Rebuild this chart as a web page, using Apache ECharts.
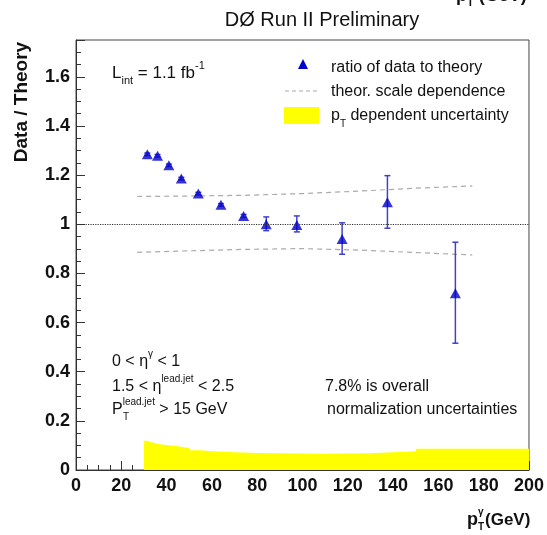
<!DOCTYPE html>
<html><head><meta charset="utf-8">
<script src="https://cdn.jsdelivr.net/npm/echarts@6/dist/echarts.min.js"></script>
<style>html,body{margin:0;padding:0;background:#fff}#c{width:547px;height:535px}</style>
</head><body><div id="c"></div>
<script>
// ---- data ----
const ptX     = [31.5, 36, 41, 46.5, 54, 64, 74, 84, 97.5, 117.5, 137.5, 167.5];
const ratio   = [1.285, 1.279, 1.240, 1.186, 1.125, 1.079, 1.034, 1.000, 0.997, 0.940, 1.090, 0.719];
const errUp   = [0.005, 0.005, 0.005, 0.005, 0.005, 0.005, 0.006, 0.030, 0.037, 0.066, 0.108, 0.208];
const errDown = [0.005, 0.005, 0.005, 0.005, 0.005, 0.005, 0.006, 0.026, 0.028, 0.062, 0.106, 0.203];

const scaleX     = [27, 50, 75, 100, 125, 150, 175];
const scaleUpper = [1.113, 1.115, 1.118, 1.125, 1.135, 1.147, 1.156];
const scaleLower = [0.886, 0.892, 0.898, 0.901, 0.895, 0.885, 0.875];

const bandX = [30, 31.5, 33, 35, 37, 40, 45, 50, 55, 60, 70, 80, 110, 130, 150, 200];
const bandY = [0.119, 0.114, 0.109, 0.105, 0.102, 0.097, 0.090, 0.080, 0.076, 0.072, 0.069, 0.066, 0.068, 0.076, 0.086, 0.086];

const xTicks = [0, 20, 40, 60, 80, 100, 120, 140, 160, 180, 200];
const yTickLabels = [0, 0.2, 0.4, 0.6, 0.8, 1, 1.2, 1.4, 1.6];
const refLevel = 1;

// ---- build ----
const FONT = 'Liberation Sans, Arial, Helvetica, sans-serif';
const zip = (a, b) => a.map((v, i) => [v, b[i]]);
const errData = ptX.map((x, i) => [x, ratio[i] - errDown[i], ratio[i] + errUp[i]]);

const chart = echarts.init(document.getElementById('c'), null, {renderer: 'canvas'});

function txt(x, y, text, opts) {
  opts = opts || {};
  return {
    type: 'text', x: x, y: y, z: 100, rotation: opts.rotation || 0,
    style: Object.assign({
      text: text, fill: '#111', fontFamily: FONT,
      fontSize: opts.fontSize || 16, fontWeight: opts.fontWeight || 'normal',
      textAlign: opts.align || 'left', align: opts.align || 'left',
      textVerticalAlign: opts.va || 'middle', verticalAlign: opts.va || 'middle'
    }, opts.rich ? {rich: opts.rich} : {})
  };
}
const richN = (fs, fw) => ({
  n: {fontSize: fs, fontFamily: FONT, fontWeight: fw || 'normal', fill: '#111', lineHeight: 26, verticalAlign: 'middle'},
  sup: {fontSize: Math.round(fs * 0.62), fontFamily: FONT, fontWeight: fw || 'normal', fill: '#111', lineHeight: 26, verticalAlign: 'top'},
  sub: {fontSize: Math.round(fs * 0.62), fontFamily: FONT, fontWeight: fw || 'normal', fill: '#111', lineHeight: 26, verticalAlign: 'bottom'}
});

const option = {
  backgroundColor: '#fff',
  animation: false,
  grid: {left: 76, right: 18, top: 40, bottom: 65, show: true, borderColor: '#444', borderWidth: 1, backgroundColor: 'transparent'},
  xAxis: {
    type: 'value', min: xTicks[0], max: xTicks[xTicks.length - 1], interval: xTicks[1] - xTicks[0],
    axisLine: {lineStyle: {color: '#333', width: 1}},
    axisTick: {inside: true, length: 9, lineStyle: {color: '#333'}},
    minorTick: {show: true, splitNumber: 4, length: 5, lineStyle: {color: '#333'}},
    splitLine: {show: false},
    axisLabel: {fontFamily: FONT, fontWeight: 'bold', fontSize: 18, color: '#111', margin: 7}
  },
  yAxis: [{
    type: 'value', min: 0, max: 1.75, interval: 0.2,
    axisLine: {show: true, lineStyle: {color: '#333', width: 1}},
    axisTick: {show: true, inside: true, length: 9, lineStyle: {color: '#333'}},
    splitLine: {show: false},
    axisLabel: {fontFamily: FONT, fontWeight: 'bold', fontSize: 18, color: '#111', margin: 6,
      formatter: v => yTickLabels.some(t => Math.abs(t - v) < 1e-6) ? String(+v.toFixed(2)) : ''}
  }, {
    type: 'value', min: 0, max: 1.75, interval: 0.05, position: 'left',
    axisLine: {show: false},
    axisTick: {show: true, inside: true, length: 5, lineStyle: {color: '#333'}},
    splitLine: {show: false},
    axisLabel: {show: false}
  }],
  series: [
    {
      name: 'pT dependent uncertainty', type: 'line', step: 'end', z: 1,
      data: zip(bandX, bandY), symbol: 'none',
      lineStyle: {width: 0}, areaStyle: {color: '#ffff00', opacity: 1, origin: 'start'},
      markLine: {
        silent: true, symbol: 'none', label: {show: false},
        lineStyle: {type: 'dotted', color: '#333', width: 1.2},
        data: [{yAxis: refLevel}]
      }
    },
    {
      name: 'theor. scale dependence up', type: 'line', z: 2, data: zip(scaleX, scaleUpper), symbol: 'none',
      lineStyle: {color: '#aaaaaa', width: 1.2, type: [5, 4]}
    },
    {
      name: 'theor. scale dependence down', type: 'line', z: 2, data: zip(scaleX, scaleLower), symbol: 'none',
      lineStyle: {color: '#aaaaaa', width: 1.2, type: [5, 4]}
    },
    {
      name: 'errors', type: 'custom', z: 3, data: errData,
      renderItem: function (params, api) {
        const x = api.value(0);
        const lo = api.coord([x, api.value(1)]);
        const hi = api.coord([x, api.value(2)]);
        const st = {stroke: '#4040cc', lineWidth: 1.5};
        const cw = 3;
        return {type: 'group', children: [
          {type: 'line', shape: {x1: lo[0], y1: lo[1], x2: hi[0], y2: hi[1]}, style: st},
          {type: 'line', shape: {x1: lo[0] - cw, y1: lo[1], x2: lo[0] + cw, y2: lo[1]}, style: st},
          {type: 'line', shape: {x1: hi[0] - cw, y1: hi[1], x2: hi[0] + cw, y2: hi[1]}, style: st}
        ]};
      }
    },
    {
      name: 'ratio of data to theory', type: 'scatter', z: 4, data: zip(ptX, ratio),
      symbol: 'triangle', symbolSize: [11, 10], itemStyle: {color: '#0000cc'}
    }
  ],
  graphic: [
    txt(322, 20, 'DØ Run II Preliminary', {fontSize: 20, align: 'center'}),
    txt(456, -4, '{b|p}{s|T}{b| (GeV)}', {rich: {
      b: {fontSize: 18, fontWeight: 'bold', fontFamily: FONT, fill: '#111', verticalAlign: 'middle', lineHeight: 24},
      s: {fontSize: 11, fontWeight: 'bold', fontFamily: FONT, fill: '#111', verticalAlign: 'bottom', lineHeight: 24}}}),
    txt(22, 102, 'Data / Theory', {fontSize: 19, fontWeight: 'bold', align: 'center', rotation: Math.PI / 2}),
    // x-axis title
    txt(467, 520, 'p', {fontSize: 18, fontWeight: 'bold'}),
    txt(478, 512, 'γ', {fontSize: 10, fontWeight: 'bold'}),
    txt(478, 527, 'T', {fontSize: 10, fontWeight: 'bold'}),
    txt(485, 520, '(GeV)', {fontSize: 17, fontWeight: 'bold'}),
    // luminosity
    txt(112, 73, '{n|L}{sub|int}{n| = 1.1 fb}{sup|-1}', {rich: richN(17)}),
    // legend
    {type: 'polygon', z: 100, shape: {points: [[303, 59], [298, 69], [308, 69]]}, style: {fill: '#0000cc'}},
    txt(331, 68, 'ratio of data to theory', {fontSize: 16}),
    {type: 'line', z: 100, shape: {x1: 285, y1: 91, x2: 320, y2: 91}, style: {stroke: '#aaaaaa', lineWidth: 1.2, lineDash: [4, 3]}},
    txt(331, 92, 'theor. scale dependence', {fontSize: 16}),
    {type: 'rect', z: 100, shape: {x: 284, y: 107, width: 35, height: 17}, style: {fill: '#ffff00'}},
    txt(331, 116, '{n|p}{sub|T}{n| dependent uncertainty}', {rich: richN(16)}),
    // cuts
    txt(112, 362, '{n|0 < η}{sup|γ}{n| < 1}', {rich: richN(16)}),
    txt(112, 387, '{n|1.5 < η}{sup|lead.jet}{n| < 2.5}', {rich: richN(16)}),
    txt(112, 410, '{n|P}{sup|lead.jet}{n| > 15 GeV}', {rich: richN(16)}),
    txt(123, 417, 'T', {fontSize: 10}),
    txt(325, 387, '7.8% is overall', {fontSize: 16}),
    txt(327, 410, 'normalization uncertainties', {fontSize: 16})
  ]
};
chart.setOption(option);
</script>
</body></html>
